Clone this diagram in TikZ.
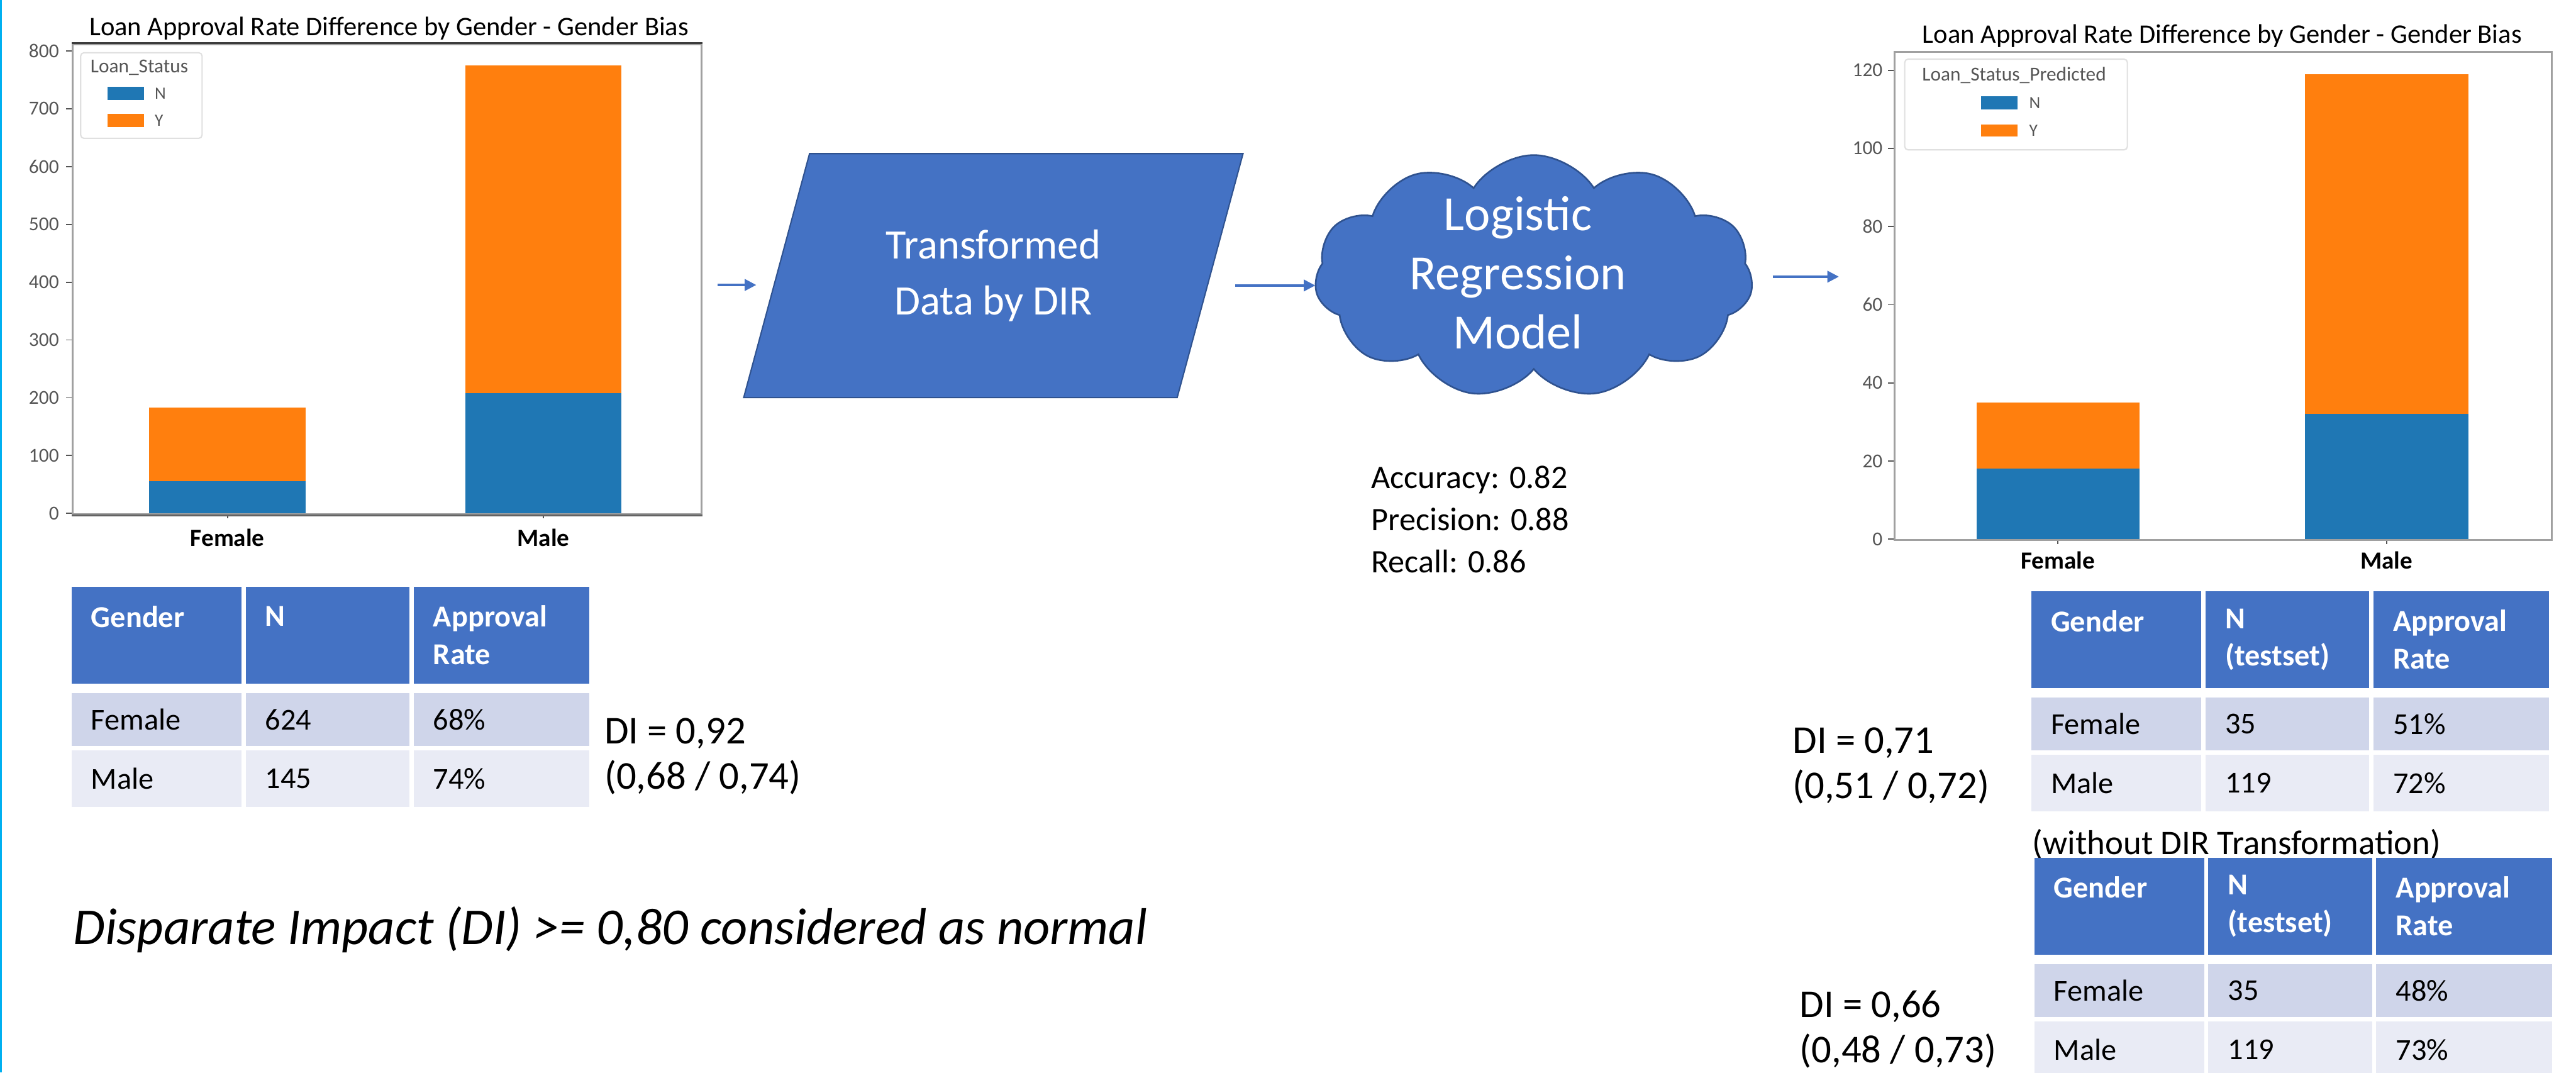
\documentclass[tikz,border=0pt]{standalone}
\usepackage{fontspec}
\setmainfont{Carlito}
\usepackage{tikz}
\usetikzlibrary{arrows.meta,shapes.geometric,shapes.symbols,positioning,calc}
\definecolor{office}{HTML}{4472C4}
\definecolor{officedk}{HTML}{2F528F}
\definecolor{rowodd}{HTML}{CFD5EA}
\definecolor{roweven}{HTML}{E9EBF5}
\definecolor{mplblue}{HTML}{1F77B4}
\definecolor{mplorange}{HTML}{FF7F0E}
\definecolor{spine}{HTML}{A0A0A0}
\definecolor{spinedk}{HTML}{3C3C3C}
\definecolor{ticktxt}{HTML}{555555}
\definecolor{slideedge}{HTML}{00B0F0}
\newcommand{\fs}[2]{\fontsize{#1}{#2}\selectfont}
\tikzset{
  cell/.style={inner xsep=12pt,inner ysep=0pt,align=left,anchor=north west,font=\fs{18.5}{22.8}},
  cell_head/.style={cell,fill=office,text=white,font=\fs{18.5}{22.8}\bfseries,minimum height=59pt},
  cell_odd/.style={cell,fill=rowodd,minimum height=32pt},
  cell_even/.style={cell,fill=roweven,minimum height=34.5pt},
  col_a/.style={text width=79.4pt},
  col_b/.style={text width=75.6pt},
  col_c/.style={text width=83.1pt},
  di_txt/.style={anchor=west,align=left,inner sep=0pt,font=\fs{24}{27.5}},
  plain_txt/.style={anchor=west,align=left,inner sep=0pt},
  para_shape/.style={trapezium,trapezium left angle=67.4,trapezium right angle=112.6,
    trapezium stretches=true,fill=office,draw=officedk,line width=0.8pt,inner sep=0pt,
    text=white,align=center,font=\fs{25.5}{34.4}},
  cloud_shape/.style={cloud,cloud puffs=11,cloud puff arc=115,aspect=1.8,
    fill=office,draw=officedk,line width=1pt,inner sep=0pt},
  shape_txt/.style={text=white,align=center,inner sep=0pt},
  frame_box/.style={draw=spine,line width=1.2pt,anchor=north west,inner sep=0pt},
  bar_n/.style={fill=mplblue},
  bar_y/.style={fill=mplorange},
  tick/.style={draw=ticktxt,line width=0.7pt},
  tick_lbl/.style={text=ticktxt,inner xsep=4pt,inner ysep=0pt,font=\fs{12}{14}},
  x_lbl/.style={font=\fs{15}{17}\bfseries,inner sep=0pt},
  chart_title/.style={font=\fs{16.3}{18},inner sep=0pt},
  legend_box/.style={draw=black!12,fill=white,rounded corners=2pt,line width=0.8pt,anchor=north west,inner sep=0pt},
  leg_title/.style={text=ticktxt,font=\fs{12}{14},inner sep=0pt},
  leg_lbl/.style={text=ticktxt,font=\fs{10.5}{12},inner sep=0pt,anchor=west},
  arr/.style={-{Triangle[length=7pt,width=7pt]},draw=office,line width=1.3pt},
}
\begin{document}
\begin{tikzpicture}[x=1pt,y=-1pt]
  \useasboundingbox (0,0) rectangle (1568,652.7);
  \draw[slideedge,line width=1pt] (0.5,0) -- (0.5,652.7);

  \begin{scope}[shift={(43.7,312.5)},y=0.3519pt]
    \fill[bar_n] (47,0) rectangle (142.5,56);
    \fill[bar_y] (47,56) rectangle (142.5,183);
    \fill[bar_n] (239.4,0) rectangle (334.5,208);
    \fill[bar_y] (239.4,208) rectangle (334.5,775);
    \foreach \v in {0,100,...,800}
      \draw[tick] (0,\v) -- ++(-3.5pt,0pt) node[tick_lbl,left] (ly\v) {\v};
    \draw[tick] (94.8,0) -- ++(0pt,-3pt) node[x_lbl,below=6pt] (lxf) {Female};
    \draw[tick] (287,0) -- ++(0pt,-3pt) node[x_lbl,below=6pt] (lxm) {Male};
  \end{scope}
  \node[frame_box,minimum width=382.8pt,minimum height=286.3pt] (lchart) at (43.7,26.2) {};
  \draw[spinedk,line width=1.2pt] (lchart.north west) -- (lchart.north east);
  \draw[spinedk!80,line width=1.2pt] (lchart.south west) -- (lchart.south east);
  \node[chart_title] (ltitle) at (236.8,17.3) {Loan Approval Rate Difference by Gender - Gender Bias};
  \node[legend_box,minimum width=73.9pt,minimum height=52.1pt] (lleg) at (48.7,31.7) {};
  \node[leg_title] (llegt) at (84.8,41) {Loan\_Status};
  \fill[bar_n] (65.6,52.7) rectangle (87.8,61);
  \fill[bar_y] (65.6,69.2) rectangle (87.8,77.2);
  \node[leg_lbl] (llegn) at (94,57) {N};
  \node[leg_lbl] (llegy) at (94,73.2) {Y};

  \begin{scope}[shift={(1152.7,328.2)},y=2.379pt]
    \fill[bar_n] (50.3,0) rectangle (149.8,18);
    \fill[bar_y] (50.3,18) rectangle (149.8,35);
    \fill[bar_n] (250.1,0) rectangle (349.8,32);
    \fill[bar_y] (250.1,32) rectangle (349.8,119);
    \foreach \v in {0,20,...,120}
      \draw[tick] (0,\v) -- ++(-3.5pt,0pt) node[tick_lbl,left,inner xsep=3pt] (ry\v) {\v};
    \draw[tick] (100,0) -- ++(0pt,-3pt) node[x_lbl,below=4pt] (rxf) {Female};
    \draw[tick] (300,0) -- ++(0pt,-3pt) node[x_lbl,below=4pt] (rxm) {Male};
  \end{scope}
  \node[frame_box,minimum width=400.1pt,minimum height=297.2pt] (rchart) at (1152.7,31) {};
  \node[chart_title] (rtitle) at (1352.6,21.8) {Loan Approval Rate Difference by Gender - Gender Bias};
  \node[legend_box,minimum width=135.5pt,minimum height=55.2pt] (rleg) at (1159,35.6) {};
  \node[leg_title] (rlegt) at (1226,46) {Loan\_Status\_Predicted};
  \fill[bar_n] (1206,58.6) rectangle (1228,66.7);
  \fill[bar_y] (1206,75.8) rectangle (1228,83.2);
  \node[leg_lbl] (rlegn) at (1235,62.6) {N};
  \node[leg_lbl] (rlegy) at (1235,79.5) {Y};

  \node[para_shape,minimum width=304.3pt,minimum height=148.5pt] (dir) at (604.65,167.75) {Transformed\\Data by DIR};
  \node[cloud_shape,minimum width=266.7pt,minimum height=148pt] (model) at (933.6,168.4) {};
  \node[shape_txt,font=\fs{30}{36}] (model_txt) at (924,166) {Logistic\\Regression\\Model};
  \node[plain_txt,font=\fs{20}{25.75}] (metrics) at (834.5,316.1) {Accuracy: 0.82\\Precision: 0.88\\Recall: 0.86};

  \draw[arr,shorten <=9pt,shorten >=12pt] ([shift={(0,3.5)}]lchart.east) -- ([shift={(0,3.5)}]lchart.east -| dir.left side);
  \draw[arr,shorten <=15pt] ([shift={(0,6)}]dir.right side) -- ([shift={(0,6)}]dir.right side -| model.west);
  \draw[arr,shorten <=12.4pt,shorten >=33.4pt] (model.east) -- (model.east -| rchart.west);

  \node[cell_head,col_a] (lt_g) at (43.3,356.9) {Gender\\\mbox{}};
  \node[cell_head,col_b,right=2.2pt of lt_g] (lt_n) {N\\\mbox{}};
  \node[cell_head,col_c,right=2.2pt of lt_n] (lt_r) {Approval\\Rate};
  \node[cell_odd,col_a,below=5.5pt of lt_g] (lt_f1) {Female};
  \node[cell_odd,col_b,right=2.2pt of lt_f1] (lt_f2) {624};
  \node[cell_odd,col_c,right=2.2pt of lt_f2] (lt_f3) {68\%};
  \node[cell_even,col_a,below=2.3pt of lt_f1] (lt_m1) {Male};
  \node[cell_even,col_b,right=2.2pt of lt_m1] (lt_m2) {145};
  \node[cell_even,col_c,right=2.2pt of lt_m2] (lt_m3) {74\%};
  \node[di_txt] (di_l) at (367.7,460.2) {DI = 0,92\\(0,68 / 0,74)};

  \node[cell_head,col_a] (rt_g) at (1236.2,359.6) {Gender\\\mbox{}};
  \node[cell_head,col_b,right=2.2pt of rt_g] (rt_n) {N\\(testset)};
  \node[cell_head,col_c,right=2.2pt of rt_n] (rt_r) {Approval\\Rate};
  \node[cell_odd,col_a,below=5.5pt of rt_g] (rt_f1) {Female};
  \node[cell_odd,col_b,right=2.2pt of rt_f1] (rt_f2) {35};
  \node[cell_odd,col_c,right=2.2pt of rt_f2] (rt_f3) {51\%};
  \node[cell_even,col_a,below=2.3pt of rt_f1] (rt_m1) {Male};
  \node[cell_even,col_b,right=2.2pt of rt_m1] (rt_m2) {119};
  \node[cell_even,col_c,right=2.2pt of rt_m2] (rt_m3) {72\%};
  \node[di_txt] (di_r1) at (1091,466.2) {DI = 0,71\\(0,51 / 0,72)};

  \node[plain_txt,font=\fs{21}{24}] (note) at (1237,514) {(without DIR Transformation)};
  \node[cell_head,col_a] (wt_g) at (1238,521.8) {Gender\\\mbox{}};
  \node[cell_head,col_b,right=2.2pt of wt_g] (wt_n) {N\\(testset)};
  \node[cell_head,col_c,right=2.2pt of wt_n] (wt_r) {Approval\\Rate};
  \node[cell_odd,col_a,below=5.5pt of wt_g] (wt_f1) {Female};
  \node[cell_odd,col_b,right=2.2pt of wt_f1] (wt_f2) {35};
  \node[cell_odd,col_c,right=2.2pt of wt_f2] (wt_f3) {48\%};
  \node[cell_even,col_a,below=2.3pt of wt_f1] (wt_m1) {Male};
  \node[cell_even,col_b,right=2.2pt of wt_m1] (wt_m2) {119};
  \node[cell_even,col_c,right=2.2pt of wt_m2] (wt_m3) {73\%};
  \node[di_txt] (di_r2) at (1095.3,626.4) {DI = 0,66\\(0,48 / 0,73)};

  \node[plain_txt,font=\fs{31.5}{36}\itshape] (rule) at (44.4,565.8) {Disparate Impact (DI) >= 0,80 considered as normal};
\end{tikzpicture}
\end{document}
